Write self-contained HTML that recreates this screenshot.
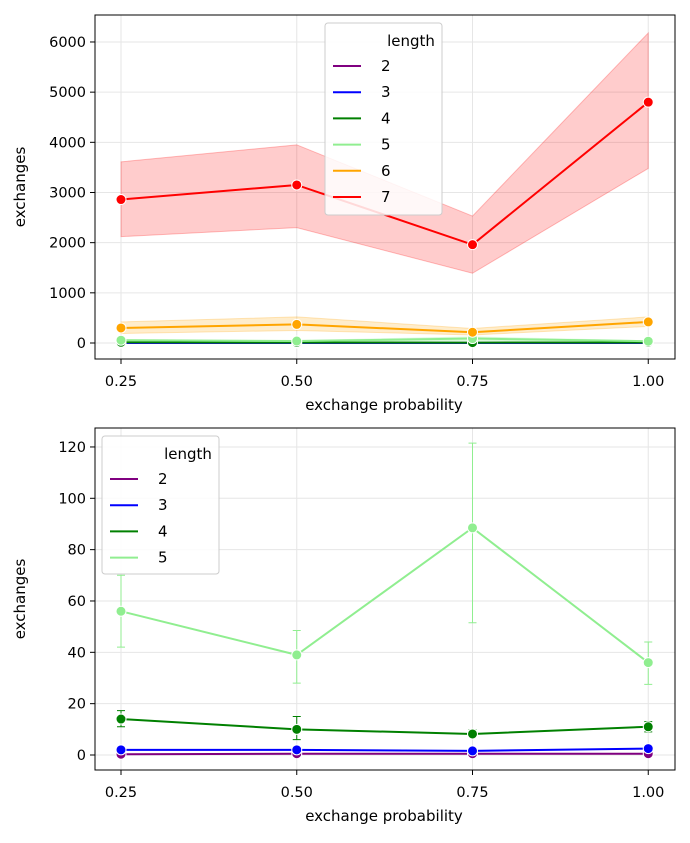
<!DOCTYPE html>
<html><head><meta charset="utf-8"><style>
body{margin:0;background:#fff;font-family:"Liberation Sans","DejaVu Sans",sans-serif}
text{font-family:"DejaVu Sans","Liberation Sans",sans-serif}
</style></head><body>
<svg id="c" width="690" height="838" xmlns="http://www.w3.org/2000/svg"></svg>
<script>
const xCats=[0.25,0.5,0.75,1.0];
const xTickLabels=["0.25","0.50","0.75","1.00"];
const topTicks=[0,1000,2000,3000,4000,5000,6000];
const botTicks=[0,20,40,60,80,100,120];
const seriesNames=["2","3","4","5","6","7"];
const colors=["purple","blue","green","lightgreen","orange","red"];
const s2=[0.3,0.5,0.5,0.5], s2lo=[0,0.1,0.1,0.1], s2hi=[0.6,0.9,0.9,0.9];
const s3=[2,2,1.6,2.5], s3lo=[1.5,1.5,1.2,2], s3hi=[2.5,2.5,2,3.2];
const s4=[14,10,8.2,11], s4lo=[11,6,7,9], s4hi=[17.3,15,9.8,13];
const s5=[56,39,88.5,36], s5lo=[42,28,51.5,27.5], s5hi=[70,48.5,121.5,44];
const s6=[300,370,215,420], s6lo=[190,250,160,330], s6hi=[420,520,290,520];
const s7=[2860,3150,1960,4800], s7lo=[2120,2300,1390,3480], s7hi=[3610,3950,2530,6180];
const svg=document.getElementById('c');const NS="http://www.w3.org/2000/svg";
function el(t,a,p){const e=document.createElementNS(NS,t);for(const k in a)e.setAttribute(k,a[k]);(p||svg).appendChild(e);return e;}
const xs=v=>121+(v-0.25)*703;
function panel(top,bot,y0,ypu,ticks,series,mode,legend,name){
  const ys=v=>y0-v*ypu;
  const g=el('g',{});
  
  
  xCats.forEach(v=>el('line',{x1:xs(v),x2:xs(v),y1:top,y2:bot,stroke:'#e6e6e6'},g));
  ticks.forEach(v=>{if(ys(v)>top&&ys(v)<bot)el('line',{x1:95,x2:675,y1:ys(v),y2:ys(v),stroke:'#e6e6e6'},g);});
  series.forEach(s=>{
    if(mode==='band'){
      let d=s.lo.map((v,i)=>(i?'L':'M')+xs(xCats[i])+','+ys(v)).join('')+s.hi.map((v,i)=>'L'+xs(xCats[3-i])+','+ys(s.hi[3-i])).join('')+'Z';
      const p=el('path',{d:d,fill:s.c,'fill-opacity':0.2,stroke:s.c,'stroke-opacity':0.25},g);
      
      
    }else{
      s.lo.forEach((v,i)=>{const x=xs(xCats[i]);
        el('path',{d:`M${x},${ys(v)}V${ys(s.hi[i])}M${x-4},${ys(v)}h8M${x-4},${ys(s.hi[i])}h8`,stroke:s.c,fill:'none'},g);});
    }
    const pl=el('polyline',{points:s.v.map((v,i)=>xs(xCats[i])+','+ys(v)).join(' '),fill:'none',stroke:s.c,'stroke-width':2},g);
    
    
    s.v.forEach((v,i)=>{const c=el('circle',{cx:xs(xCats[i]),cy:ys(v),r:5,fill:s.c,stroke:'#fff','stroke-width':1},g);
      
      });
  });
  el('rect',{x:95,y:top,width:580,height:bot-top,fill:'none',stroke:'#000','stroke-width':1},g);
  ticks.forEach(v=>{const y=ys(v);if(y<top||y>bot)return;el('line',{x1:90,x2:95,y1:y,y2:y,stroke:'#000'},g);
    const t=el('text',{x:86,y:y+5,'text-anchor':'end','font-size':14.5},g);t.textContent=v;});
  xCats.forEach((v,i)=>{el('line',{x1:xs(v),x2:xs(v),y1:bot,y2:bot+5,stroke:'#000'},g);
    const t=el('text',{x:xs(v),y:bot+27,'text-anchor':'middle','font-size':14.5},g);t.textContent=xTickLabels[i];});
  const xl=el('text',{x:384,y:bot+51,'text-anchor':'middle','font-size':15},g);xl.textContent='exchange probability';
  
  const cy=(top+bot)/2;
  const yl=el('text',{x:25,y:cy,'text-anchor':'middle','font-size':15,transform:`rotate(-90 25 ${cy})`},g);yl.textContent='exchanges';
  
  const L=el('g',{},g);
  
  el('rect',{x:legend.x,y:legend.y,width:117,height:legend.h,rx:3,fill:'#fff','fill-opacity':0.85,stroke:'#ccc'},L);
  const tt=el('text',{x:legend.x+86,y:legend.y+23,'text-anchor':'middle','font-size':15},L);tt.textContent='length';
  series.forEach((s,i)=>{const y=legend.y+43+i*26.2;
    el('line',{x1:legend.x+8,x2:legend.x+36,y1:y,y2:y,stroke:s.c,'stroke-width':2},L);
    const t=el('text',{x:legend.x+56,y:y+5,'font-size':15},L);t.textContent=s.n;});
}
const all=[[s2,s2lo,s2hi],[s3,s3lo,s3hi],[s4,s4lo,s4hi],[s5,s5lo,s5hi],[s6,s6lo,s6hi],[s7,s7lo,s7hi]].map((a,i)=>({v:a[0],lo:a[1],hi:a[2],c:colors[i],n:seriesNames[i]}));
panel(15,359,343,0.05017,topTicks,all,'band',{x:325,y:23,h:192},'top-panel');
panel(428,770,755,2.567,botTicks,all.slice(0,4),'err',{x:102,y:436,h:138},'bottom-panel');
</script>
</body></html>
